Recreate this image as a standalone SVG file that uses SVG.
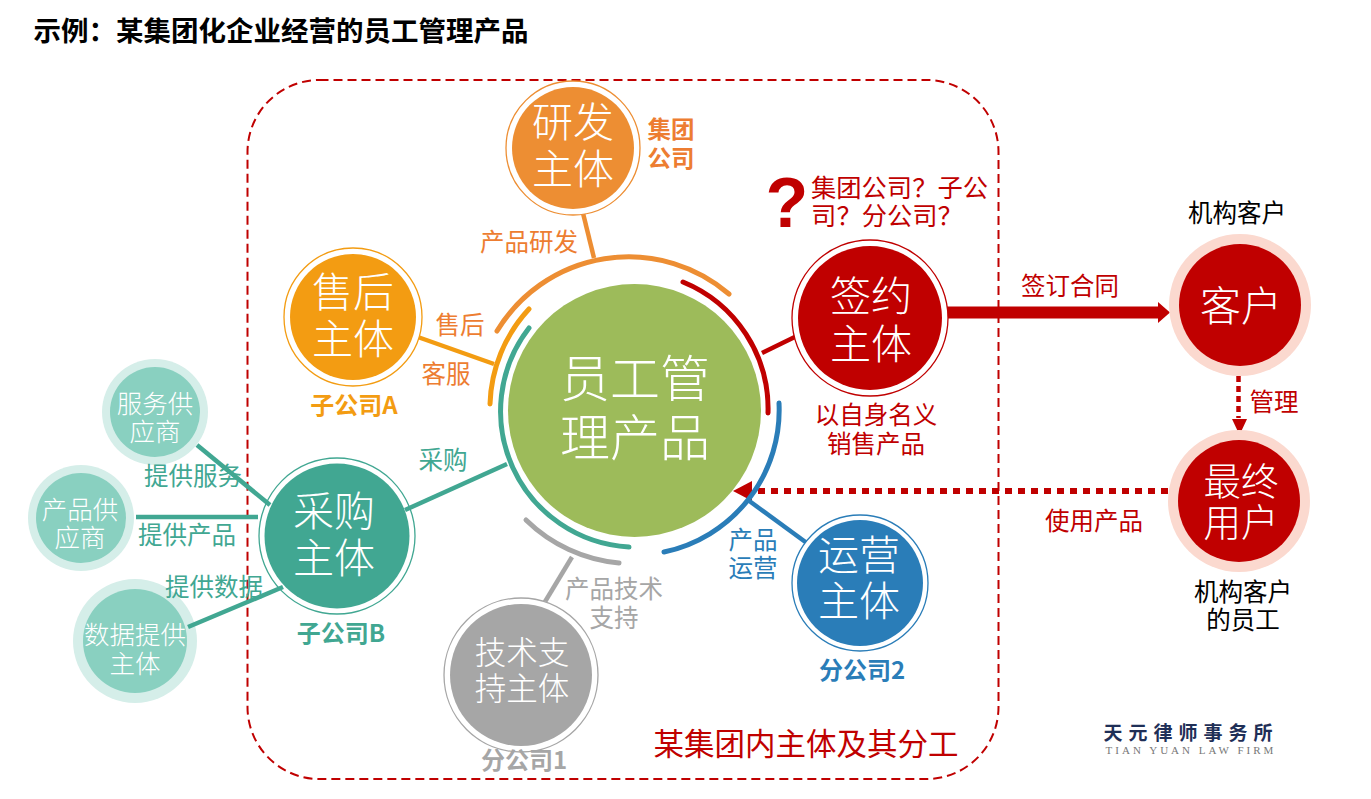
<svg xmlns="http://www.w3.org/2000/svg" width="1371" height="799" viewBox="0 0 1371 799">
<style>
text{font-family:"Noto Sans CJK SC","Liberation Sans",sans-serif;text-anchor:middle;dominant-baseline:central}
.w{fill:#fff}.b{font-weight:700}.l{font-weight:300}
.big{font-size:41px}.mid{font-size:25.500px}
.lab{font-size:24.500px}
.or{fill:#ED7D31}.ye{fill:#F39C12}.te{fill:#41A792}.bl{fill:#2A7DB8}.gr{fill:#A6A6A6}.re{fill:#C00000}.ok{fill:#000}
.arc{fill:none;stroke-width:5;stroke-linecap:round}
.ln{fill:none;stroke-width:4.500}
.thin{fill:#fff;stroke-width:1.300}
</style>
<rect x="247.500" y="80" width="751" height="699" rx="72" fill="none" stroke="#C00000" stroke-width="2" stroke-dasharray="9 5"/>
<text class="b" x="281" y="29" style="font-size:27.500px" fill="#000">示例：某集团化企业经营的员工管理产品</text>

<g id="node-center">
<circle cx="634.500" cy="410.500" r="126.500" fill="#9DBB5A"/>
<text class="w l" x="635" y="375" style="font-size:50px">员工管</text>
<text class="w l" x="635" y="434" style="font-size:50px">理产品</text>
</g>
<g id="node-sup1">
<circle cx="155" cy="412" r="53" fill="#D5EEE9"/><circle cx="155" cy="412" r="45" fill="#89D0C0"/>
<text class="w mid l" x="155" y="401">服务供</text><text class="w mid l" x="155" y="429">应商</text>
</g>
<g id="node-sup2">
<circle cx="81" cy="518" r="53" fill="#D5EEE9"/><circle cx="81" cy="518" r="45" fill="#89D0C0"/>
<text class="w mid l" x="80" y="507">产品供</text><text class="w mid l" x="80" y="535">应商</text>
</g>
<g id="node-sup3">
<circle cx="135" cy="641" r="62" fill="#D5EEE9"/><circle cx="135" cy="641" r="52" fill="#89D0C0"/>
<text class="w mid l" x="135" y="632">数据提供</text><text class="w mid l" x="135" y="661">主体</text>
</g>
<g id="node-purchase">
<circle cx="337" cy="536" r="78" class="thin" stroke="#41A792"/><circle cx="337" cy="536" r="72.500" fill="#41A792"/>
<text class="w big l" x="334" y="508">采购</text><text class="w big l" x="334" y="555">主体</text>
</g>

<g id="connectors">
<path d="M1168 491H750" fill="none" stroke="#C00000" stroke-width="6" stroke-dasharray="7 6"/>
<path d="M752 481L733 491L752 501Z" fill="#C00000"/>
<path d="M497 331A154 154 0 0 1 729 294" class="arc" stroke="#ED8E33"/>
<path d="M683 282A137 137 0 0 1 768 413" class="arc" stroke="#C00000"/>
<path d="M779 403A145 145 0 0 1 664 552" class="arc" stroke="#2A7DB8"/>
<path d="M529 328A136 136 0 0 0 629 547" class="arc" stroke="#41A792"/>
<path d="M529 309A146 146 0 0 0 490 404" class="arc" stroke="#F39C12"/>
<path d="M526 520A153 153 0 0 0 619 563" class="arc" stroke="#A6A6A6"/>
<path d="M581 205L594 258" class="ln" stroke="#ED8E33"/>
<path d="M415 336L494 364" class="ln" stroke="#F39C12"/>
<path d="M762 353L805 332" class="ln" stroke="#C00000"/>
<path d="M405 510L507 464" class="ln" stroke="#41A792"/>
<path d="M748 500L815 549" class="ln" stroke="#2A7DB8"/>
<path d="M572 557L540 610" class="ln" stroke="#A6A6A6"/>
<path d="M197 445L270 505" class="ln" stroke="#41A792"/>
<path d="M136 517H258" class="ln" stroke="#41A792"/>
<path d="M188 627L283 587" class="ln" stroke="#41A792"/>
<path d="M940 312.500H1158" fill="none" stroke="#C00000" stroke-width="12"/>
<path d="M1158 302L1170 312.500L1158 323Z" fill="#C00000"/>
<path d="M1238.500 376V418" fill="none" stroke="#C00000" stroke-width="4.500" stroke-dasharray="6 4"/>
<path d="M1232 419H1247L1239.500 435Z" fill="#C00000"/>
</g>

<g id="node-rd">
<circle cx="573" cy="148" r="67" class="thin" stroke="#ED8E33"/><circle cx="573" cy="148" r="61" fill="#ED8E33"/>
<text class="w big l" x="573" y="119">研发</text><text class="w big l" x="573" y="166">主体</text>
</g>
<g id="node-service">
<circle cx="353" cy="317" r="69" class="thin" stroke="#F39C12"/><circle cx="353" cy="317" r="63" fill="#F39C12"/>
<text class="w big l" x="353" y="289">售后</text><text class="w big l" x="353" y="336">主体</text>
</g>
<g id="node-sign">
<circle cx="870" cy="318" r="78" class="thin" stroke="#C00000"/><circle cx="870" cy="318" r="72" fill="#C00000"/>
<text class="w big l" x="871" y="293">签约</text><text class="w big l" x="871" y="341">主体</text>
</g>
<g id="node-ops">
<circle cx="860" cy="583" r="68" class="thin" stroke="#2A7DB8"/><circle cx="860" cy="583" r="63" fill="#2A7DB8"/>
<text class="w big l" x="859" y="552">运营</text><text class="w big l" x="859" y="598">主体</text>
</g>
<g id="node-tech">
<circle cx="521" cy="675" r="77" class="thin" stroke="#A6A6A6"/><circle cx="521" cy="675" r="71" fill="#A6A6A6"/>
<text class="w l" x="522" y="650" style="font-size:31.500px">技术支</text><text class="w l" x="522" y="686" style="font-size:31.500px">持主体</text>
</g>
<g id="node-customer">
<circle cx="1240" cy="305" r="71" fill="#FBD9CF"/><circle cx="1240" cy="305" r="61" fill="#C00000"/>
<text class="w big l" x="1241" y="303">客户</text>
</g>
<g id="node-user">
<circle cx="1239" cy="501" r="71" fill="#FBD9CF"/><circle cx="1239" cy="501" r="61" fill="#C00000"/>
<text class="w l" x="1241" y="478" style="font-size:37.500px">最终</text><text class="w l" x="1241" y="519" style="font-size:37.500px">用户</text>
</g>

<g id="labels">
<text class="lab or" x="529" y="240">产品研发</text>
<text class="lab or" x="460" y="323.500">售后</text>
<text class="lab or" x="446" y="372.500">客服</text>
<text class="lab te" x="443" y="458.500">采购</text>
<text class="lab te" x="193" y="474.500">提供服务</text>
<text class="lab te" x="187" y="533.500">提供产品</text>
<text class="lab te" x="214" y="585.500">提供数据</text>
<text class="lab gr" x="614" y="587.500">产品技术</text>
<text class="lab gr" x="614" y="616.500">支持</text>
<text class="lab bl" x="753" y="538.500">产品</text>
<text class="lab bl" x="753" y="566.500">运营</text>
<text class="b or" x="671" y="127.500" style="font-size:23.500px">集团</text>
<text class="b or" x="671" y="156.500" style="font-size:23.500px">公司</text>
<text class="b ye" x="354" y="403" style="font-size:24px">子公司A</text>
<text class="b te" x="341" y="631" style="font-size:24px">子公司B</text>
<text class="b bl" x="862" y="668" style="font-size:24px">分公司2</text>
<text class="b gr" x="524" y="758" style="font-size:24px">分公司1</text>
<text class="re" x="806" y="741.500" style="font-size:30.500px">某集团内主体及其分工</text>
<text class="re b" x="787" y="203" style="font-size:70px;font-family:'Liberation Sans',sans-serif">?</text>
<text class="re" x="899.500" y="186" style="font-size:25.300px">集团公司？子公</text>
<text class="re" x="887" y="214" style="font-size:25.300px">司？分公司？</text>
<text class="lab re" x="876" y="413.500">以自身名义</text>
<text class="lab re" x="876" y="442.500">销售产品</text>
<text class="lab re" x="1070" y="284.500">签订合同</text>
<text class="lab re" x="1274" y="400.500">管理</text>
<text class="lab re" x="1094" y="519.500">使用产品</text>
<text class="lab ok" x="1237" y="211.500">机构客户</text>
<text class="lab ok" x="1243" y="590.500">机构客户</text>
<text class="lab ok" x="1243" y="618.500">的员工</text>
<text x="1191" y="731" style="font-size:19px;letter-spacing:6px;fill:#1F2F57;font-weight:700">天元律师事务所</text>
<text x="1191" y="750" style="font-size:11px;letter-spacing:3px;fill:#777;font-family:'Liberation Serif',serif">TIAN YUAN LAW FIRM</text>
</g>
</svg>
